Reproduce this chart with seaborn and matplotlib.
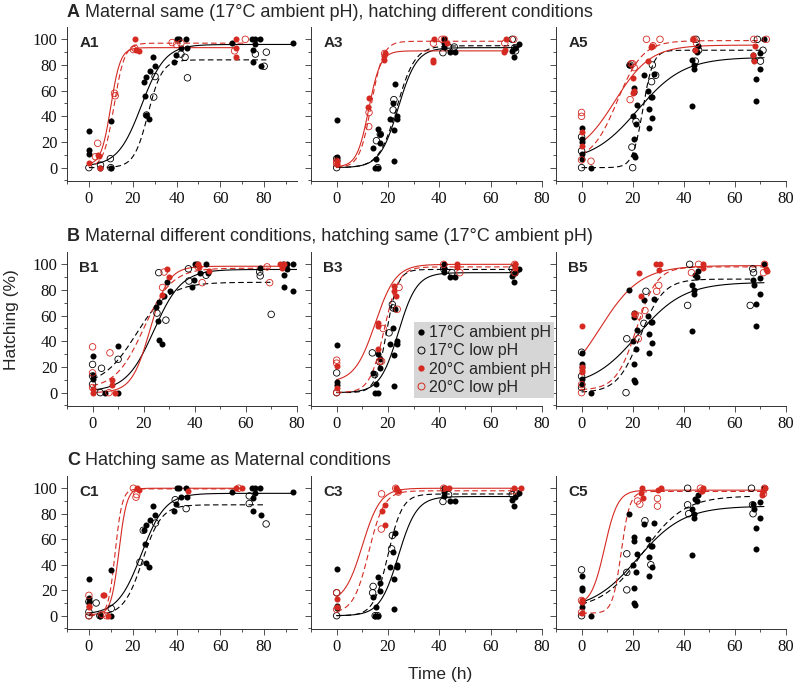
import matplotlib

matplotlib.use("Agg")

import matplotlib.pyplot as plt
import numpy as np
import seaborn as sns
from matplotlib.lines import Line2D
from matplotlib.ticker import MultipleLocator

RED = "#d42a22"
FIG_W, FIG_H = 798, 689

# 17°C ambient pH (maternal + hatching) is the same series in every row of a column
col1_amb17_x = [0, 0, 0, 5, 10, 10, 25, 26, 25.5, 26, 27.3, 27.8, 29.2, 30.2, 39, 39.8, 40, 41, 42, 44.3, 45,
                65.5, 74.4, 76, 75, 76, 75, 78.5, 78.3, 93]
col1_amb17_y = [28.5, 14, 11, 0, 36, 0, 67, 71, 56, 41, 38, 75, 86, 79, 82, 88, 100, 100, 93.5, 100, 93,
                97, 100, 100, 92, 96, 82, 79, 100, 97]
col3_amb17_x = [0, 0, 0, 14, 14.8, 15.2, 16, 16.1, 16.8, 17, 20.8, 21.9, 22.6, 22.3, 22.3, 23.4, 23.6,
                41.7, 42, 42, 44.1, 46, 68.4, 68.9, 71.1, 69.5]
col3_amb17_y = [37, 8, 6, 15, 0, 7, 0, 30, 26, 19.5, 38, 50, 65, 29, 5.5, 40, 38,
                100, 97, 94, 90, 90, 91, 86, 96, 93]
col5_amb17_x = [0, 0, 0, 0, 0, 3.7, 18.5, 20, 20.4, 20.4, 20.6, 20.6, 20.9, 21.5, 21.3, 24.5, 26, 26.3,
                26.5, 27, 27.5, 27.7, 28.3, 43.2, 43.1, 43.9, 43.9, 44.5, 45.4, 45, 67, 67.6, 68.4, 68.4,
                69.7, 70, 71.4]
col5_amb17_y = [31, 22, 20, 11, 7, 0, 80, 40, 62, 59, 22, 10, 8.5, 48.5, 34, 72, 60, 31,
                46, 55, 55, 38.5, 73, 84, 48, 80, 77, 91.5, 95, 90, 88, 84, 69, 52,
                77, 89.5, 100]

# logistic fits: (lower, upper, midpoint, scale)
col1_amb17_fit = (1, 96, 24, 5.4)
col3_amb17_fit = (0, 93.5, 24, 3.6)
col5_amb17_fit = (4, 86, 22, 9)

A1_low17 = ([0, 5.3, 9.8, 10, 26.3, 29.6, 30.2, 42, 43.9, 45, 76, 80, 81],
            [0, 2, 7, 0, 41, 55, 71, 88.5, 86, 70, 88.5, 79, 90])
A1_amb20 = ([0, 4, 4.8, 5, 21, 21.5, 23, 67, 67, 67],
            [3.5, 10, 9, 0, 100, 92, 91, 100, 93, 86.5])
A1_low20 = ([3, 4, 11.7, 12, 20.3, 21, 38, 40, 42, 66.5, 71.4],
            [8.5, 19, 58, 56, 92, 93, 97.5, 96, 97, 91, 100])
A1_fits = [(0, 84, 27, 3.2), (2, 93.5, 10, 2.2), (0, 97, 11.5, 2.4)]

A3_low17 = ([0, 0, 16, 15.5, 17, 22.3, 22, 41.4, 43.6, 45.8, 68.4, 69.4, 69.7],
            [0, 7, 0, 21, 26, 53, 45, 89.6, 94, 94, 100, 93.5, 91])
A3_amb20 = ([0, 0, 12.6, 12.3, 18.5, 18.5, 18.7, 37.7, 37.7, 37.8, 43, 65.8, 65.3, 65.5],
            [5.5, 3, 54, 47.5, 87, 84, 89, 84, 82, 100, 97, 100, 90, 92])
A3_low20 = ([0, 0, 12.6, 12.5, 18.7, 37.7, 41, 42, 65.5, 69],
            [3, 5, 43, 32, 89, 97, 100, 100, 97, 100])
A3_fits = [(0, 95, 23.5, 3.5), (0.5, 91, 12.5, 2.3), (0, 98.5, 13.5, 2.3)]

A5_low17 = ([0, 0, 0, 19, 19.7, 20, 21.3, 27.4, 27.7, 29, 44.5, 44.8, 45.8, 68.8, 70, 71],
            [0, 24, 13, 80, 16, 0, 36, 67, 80, 72, 83, 100, 91.5, 100, 83, 91.5])
A5_amb20 = ([0, 0, 20, 20, 20.4, 26, 27.1, 27.6, 43.6, 44.5, 67, 67.6, 68],
            [28, 17, 70, 58.5, 60, 83, 94, 95, 100, 91.5, 88, 83, 95])
A5_low20 = ([0, 0, 0, 3.7, 19.4, 20, 20.6, 19, 25.4, 28, 30.7, 44, 45, 67.4, 72.3],
            [43, 40, 6, 5, 81, 81, 78, 53, 100, 95, 100, 100, 97, 100, 100])
A5_fits = [(0, 91.5, 24, 2.0), (8, 95.5, 13, 7), (5, 99, 14, 5)]

B1_low17 = ([0, 0, 0, 3.5, 3, 10, 25.9, 25.2, 28.7, 37.5, 37.7, 44.4, 65.6, 65.4, 69.9],
            [22, 13, 6.5, 19, 0, 26, 93.5, 62, 56.5, 96.5, 87, 91.5, 91, 94, 61])
B1_amb20 = ([0, 0, 7.5, 7.5, 8.8, 27.2, 29.2, 30, 41.2, 41.5, 45.4, 73.2, 74.8, 74],
            [3, 0, 10, 5.7, 0, 76, 96.5, 90, 100, 98, 95, 100, 100, 97])
B1_low20 = ([0, 0, 0, 6.8, 6.4, 28, 27.4, 41.3, 42.9, 68.3, 69.3],
            [35.7, 15.4, 4, 31, 0, 94, 82, 98, 85.7, 98, 85.7])
B1_fits = [(5, 86, 17, 6.5), (0, 98.5, 22.5, 3.6), (3, 97, 20, 5.5)]

B3_low17 = ([0, 0, 13.9, 14.8, 20.4, 21.7, 22, 16.8, 41.7, 44.9, 68.4, 69.2],
            [0, 15.4, 31, 14, 46.6, 68.7, 66, 24, 96.5, 93.5, 96.5, 93.5])
B3_amb20 = ([0, 0, 16.1, 16.1, 16.1, 22.3, 22.3, 23, 46.8, 46.8, 69.4, 69.4],
            [20.6, 4, 54.4, 52, 34, 83, 79, 75.5, 100, 98, 100, 97])
B3_low20 = ([0, 0, 0, 18.1, 16.8, 17.5, 23.6, 24.3, 41.7, 48, 69.4, 69.4],
            [25.3, 23, 0, 50, 24.5, 24.5, 65, 82, 100, 93.5, 93.5, 100])
B3_fits = [(0, 96, 19.5, 2.2), (8, 100, 15, 4), (0, 98, 18.5, 2.8)]

B5_low17 = ([0, 0, 0, 17.7, 17.4, 25.2, 24.4, 41.5, 42.3, 66, 67, 67.3],
            [31.5, 12.8, 4, 42, 0, 79, 54, 68, 100, 68, 96.5, 93.5])
B5_amb20 = ([0, 0, 0, 0, 22.3, 23.2, 20.6, 29.3, 30.3, 30.5, 47.5, 47.5, 72.3, 72.6],
            [51.8, 18, 16, 20, 93, 75, 61.5, 100, 95.6, 100, 100, 97, 96.5, 95])
B5_low20 = ([0, 0, 21, 22.2, 22.6, 29.4, 30.2, 24.8, 45.8, 43, 71.6, 71.2],
            [6.3, 0, 61, 42, 59.6, 79, 83.6, 64, 100, 93.5, 100, 93.5])
B5_fits = [(0, 88.5, 23, 4.5), (0, 99, 7, 8), (2, 98, 21.5, 4)]

C1_low17 = ([0, 0, 0, 3.3, 5, 10.2, 23.3, 24.8, 30.4, 39.4, 44.4, 73.2, 73.2, 80.9],
            [11, 3, 0, 10, 0, 5.7, 42, 67, 72.7, 91, 84, 94, 88, 72])
C1_amb20 = ([0, 0, 6.3, 7, 8.6, 22, 23, 45.1, 67, 70],
            [7.8, 7, 16.6, 16, 0, 100, 99, 98, 100, 100])
C1_low20 = ([0, 0, 6, 8, 20.3, 21.5, 21.8, 68.4],
            [16, 0, 1, 0, 100, 93, 95, 100])
C1_fits = [(0, 87, 24.5, 4.3), (1, 100, 13.7, 1.8), (0, 99.5, 12, 1.6)]

C3_low17 = ([0, 0, 14.2, 14, 15, 16, 21.7, 21.4, 41.4, 43.6, 68.4, 70.2],
            [0, 18, 23, 18, 0, 0, 63, 52.5, 89.6, 95, 95, 96])
C3_amb20 = ([0, 0, 17.8, 18.7, 18.7, 23, 24, 42.3, 43.8, 69, 71.7],
            [13, 7, 82, 87, 71.4, 100, 98, 100, 100, 100, 100])
C3_low20 = ([0, 0, 17.5, 17.4, 23, 24, 41.7, 69],
            [18, 5, 95.6, 68, 100, 97, 100, 98])
C3_fits = [(0, 95.5, 20, 2.8), (10, 100, 10, 3.5), (2, 98, 12.5, 3)]

C5_low17 = ([0, 0, 17.7, 17.7, 17.7, 24.8, 27.1, 41.5, 41.5, 41.9, 66.5, 66.9, 67.1],
            [36, 0, 48.6, 34, 20.3, 74.5, 40, 100, 87, 80, 100, 87, 80])
C5_amb20 = ([0, 0, 0, 23.5, 23.2, 24.1, 30, 31, 47.7, 47, 71, 71.6, 70.7],
            [12, 10.4, 2, 100, 96.6, 92, 98.7, 100, 100, 98, 98, 100, 94.8])
C5_low20 = ([0, 0, 21.9, 22.8, 29.7, 29.7, 46.5, 47, 71.2, 71.6],
            [2.6, 12, 90, 87.5, 92, 86, 100, 98, 95.6, 100])
C5_fits = [(5, 94, 24, 8), (8, 98.5, 9, 2.6), (2, 97.5, 15.5, 1.7)]

ROW_TITLES = {
    "A": "Maternal same (17°C ambient pH), hatching different conditions",
    "B": "Maternal different conditions, hatching same (17°C ambient pH)",
    "C": "Hatching same as Maternal conditions",
}
LEGEND_LABELS = ["17°C ambient pH", "17°C low pH", "20°C ambient pH", "20°C low pH"]

# (color, filled marker, line style) for 17 ambient, 17 low, 20 ambient, 20 low
STYLES = [("black", True, "-"), ("black", False, (0, (5, 3))), (RED, True, "-"), (RED, False, (0, (5, 3)))]

ROW_BOUNDS = {"A": (27, 181), "B": (252, 406), "C": (476, 629)}
COL_BOUNDS = {"1": (67, 230), "3": (311, 231), "5": (556, 230)}
TITLE_BASELINE = {"A": 16.7, "B": 240.7, "C": 465}
SANS = ["Liberation Sans", "DejaVu Sans"]


def logistic(x, lo, hi, x0, s):
    return lo + (hi - lo) / (1 + np.exp(-(x - x0) / s))


def draw_series(ax, xs, ys, fit, style):
    color, filled, ls = style
    xc = np.linspace(min(xs), max(xs), 300)
    sns.lineplot(x=xc, y=logistic(xc, *fit), ax=ax, color=color, linewidth=0.8,
                 linestyle=ls, sort=False, estimator=None, zorder=2)
    if filled:
        sns.scatterplot(x=xs, y=ys, ax=ax, color=color, s=19, linewidth=0, zorder=3)
    else:
        sns.scatterplot(x=xs, y=ys, ax=ax, color=color, facecolor="none", edgecolor=color,
                        s=22, linewidth=0.6, zorder=3)


def style_axes(ax, xmax, show_ylabels):
    ax.set_xlim(-10, xmax)
    ax.set_ylim(-10.4, 109.6)
    ax.xaxis.set_minor_locator(MultipleLocator(10))
    ax.yaxis.set_minor_locator(MultipleLocator(10))
    ax.set_xticks([0, 20, 40, 60, 80])
    ax.set_yticks([0, 20, 40, 60, 80, 100])
    ax.tick_params(which="major", length=4, width=0.6, direction="out", pad=3,
                   labelsize=12, colors="#333333", labelcolor="#111111")
    ax.tick_params(which="minor", length=2, width=0.6, direction="out", colors="#333333")
    if not show_ylabels:
        ax.tick_params(axis="y", labelleft=False)
    sns.despine(ax=ax)
    for side in ("left", "bottom"):
        ax.spines[side].set_linewidth(0.7)
        ax.spines[side].set_color("#333333")
    ax.set_xlabel("")
    ax.set_ylabel("")


def main():
    sns.set_style("ticks")
    # tick numbers are in a Times-like serif, every other text is sans
    plt.rcParams["font.family"] = ["Liberation Serif", "DejaVu Serif"]

    fig = plt.figure(figsize=(FIG_W / 100, FIG_H / 100), dpi=100)

    col_amb17 = {
        "1": ((col1_amb17_x, col1_amb17_y), col1_amb17_fit),
        "3": ((col3_amb17_x, col3_amb17_y), col3_amb17_fit),
        "5": ((col5_amb17_x, col5_amb17_y), col5_amb17_fit),
    }
    panels = {
        "A1": (A1_low17, A1_amb20, A1_low20, A1_fits),
        "A3": (A3_low17, A3_amb20, A3_low20, A3_fits),
        "A5": (A5_low17, A5_amb20, A5_low20, A5_fits),
        "B1": (B1_low17, B1_amb20, B1_low20, B1_fits),
        "B3": (B3_low17, B3_amb20, B3_low20, B3_fits),
        "B5": (B5_low17, B5_amb20, B5_low20, B5_fits),
        "C1": (C1_low17, C1_amb20, C1_low20, C1_fits),
        "C3": (C3_low17, C3_amb20, C3_low20, C3_fits),
        "C5": (C5_low17, C5_amb20, C5_low20, C5_fits),
    }

    for name, (low17, amb20, low20, fits) in panels.items():
        row, col = name[0], name[1]
        top, bottom = ROW_BOUNDS[row]
        left, width = COL_BOUNDS[col]
        ax = fig.add_axes([left / FIG_W, 1 - bottom / FIG_H, width / FIG_W, (bottom - top) / FIG_H])

        amb17, amb17_fit = col_amb17[col]
        series = [amb17, low17, amb20, low20]
        all_fits = [amb17_fit] + list(fits)
        for (xs, ys), fit, style in zip(series, all_fits, STYLES):
            draw_series(ax, xs, ys, fit, style)

        xmax = 95 if (col == "1" and row in "AC") else 80
        style_axes(ax, xmax, show_ylabels=(col == "1"))
        ax.text(12.3 / width, 1 - 19.7 / (bottom - top), name, transform=ax.transAxes,
                family=SANS, fontsize=11, fontweight="bold", va="baseline", ha="left")

    for row, title in ROW_TITLES.items():
        t = fig.text(67 / FIG_W, 1 - TITLE_BASELINE[row] / FIG_H, row, family=SANS, fontsize=13,
                     fontweight="bold", va="baseline", ha="left")
        fig.text(0, 0, "")
        plt.annotate(" " + title, xy=(1, 0), xycoords=t, va="bottom", ha="left",
                     family=SANS, fontsize=13, annotation_clip=False)

    fig.text(12 / FIG_W, 1 - 320 / FIG_H, "Hatching (%)", rotation=90, family=SANS, fontsize=12.5,
             va="center", ha="center")
    fig.text(440 / FIG_W, 1 - 675 / FIG_H, "Time (h)", family=SANS, fontsize=12.5,
             va="center", ha="center")

    handles = []
    for color, filled, _ in STYLES:
        handles.append(Line2D([], [], linestyle="none", marker="o", markersize=4.5 if filled else 5,
                              markerfacecolor=color if filled else "none", markeredgecolor=color,
                              markeredgewidth=0 if filled else 0.7))
    leg = fig.legend(handles, LEGEND_LABELS, loc="upper left",
                     bbox_to_anchor=(414 / FIG_W, 1 - 322 / FIG_H), frameon=True,
                     facecolor="#d6d6d6", edgecolor="none", framealpha=1, fancybox=False,
                     borderpad=0.2, borderaxespad=0, handlelength=0.5, handletextpad=0.25,
                     labelspacing=0.2, prop={"family": SANS, "size": 11.5})
    leg.set_zorder(10)

    fig.savefig("out.png", dpi=100)
    plt.close(fig)


if __name__ == "__main__":
    main()
